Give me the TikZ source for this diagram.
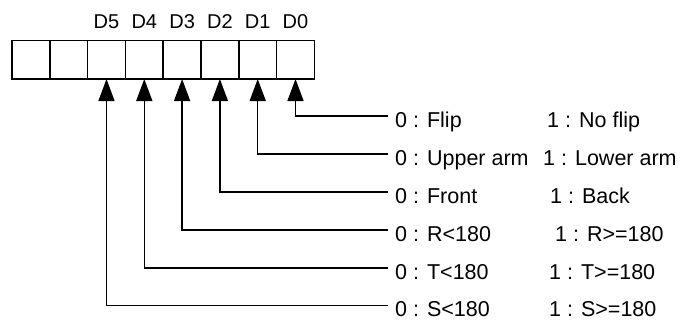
\documentclass[tikz,border=0pt]{standalone}
\usepackage{fontspec}
\setmainfont{Liberation Sans}
\usetikzlibrary{arrows.meta}
\begin{document}
\begin{tikzpicture}[x=1pt,y=-1pt,
  cell/.style={draw,line width=1.5pt,minimum width=37.8pt,minimum height=38.3pt,inner sep=0pt,outer sep=0pt},
  bitlbl/.style={font=\fontsize{20}{24}\selectfont,inner sep=0pt,anchor=base},
  lbl/.style={font=\fontsize{21.5}{26}\selectfont,inner sep=0pt,anchor=base west},
  conn/.style={line width=1.5pt,-{Triangle[width=16pt,length=22pt]}}]
\useasboundingbox (0,0) rectangle (684,327);
% register cells
\foreach \i in {0,...,7}{
  \node[cell] (c\i) at ({12+37.8*(\i+0.5)},59.85) {};
}
% bit labels
\foreach \i/\d in {2/5,3/4,4/3,5/2,6/1,7/0}{
  \node[bitlbl] (d\d) at ({12+37.8*(\i+0.5)},28) {D\d};
}
% connectors
\foreach \i/\d/\y in {7/0/116,6/1/154,5/2/192,4/3/230,3/4/268,2/5/305.7}{
  \coordinate (k\d) at (c\i.south |- 0,\y);
  \coordinate (e\d) at (388,\y);
  \draw[conn] (e\d) -- (k\d) -- (c\i.south);
}
\node[lbl] (a0) at (395,127) {0 : Flip};
\node[lbl] (b0) at (547,127) {1 : No flip};
\node[lbl] (a1) at (395,165) {0 : Upper arm};
\node[lbl] (b1) at (543,165) {1 : Lower arm};
\node[lbl] (a2) at (395,203) {0 : Front};
\node[lbl] (b2) at (550,203) {1 : Back};
\node[lbl] (a3) at (395,241) {0 : R<180};
\node[lbl] (b3) at (555,241) {1 : R>=180};
\node[lbl] (a4) at (395,279) {0 : T<180};
\node[lbl] (b4) at (549,279) {1 : T>=180};
\node[lbl] (a5) at (395,316.7) {0 : S<180};
\node[lbl] (b5) at (549,316.7) {1 : S>=180};
\end{tikzpicture}
\end{document}
